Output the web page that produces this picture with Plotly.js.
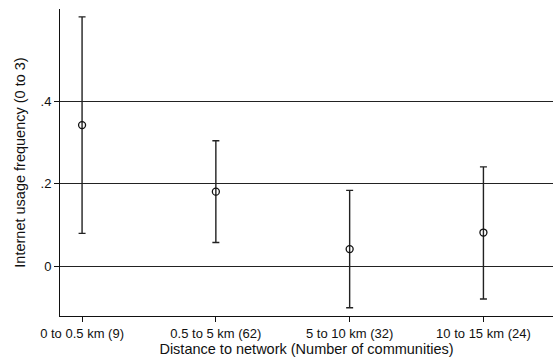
<!DOCTYPE html>
<html><head><meta charset="utf-8">
<script src="https://cdn.plot.ly/plotly-3.0.1.min.js"></script>
<style>html,body{margin:0;padding:0;background:#fff}#chart{width:553px;height:360px}</style>
</head><body><div id="chart"></div>
<script>
const categories = ["0 to 0.5 km (9)", "0.5 to 5 km (62)", "5 to 10 km (32)", "10 to 15 km (24)"];
const means = [0.342, 0.181, 0.042, 0.082];
const upper = [0.604, 0.304, 0.184, 0.241];
const lower = [0.080, 0.058, -0.100, -0.079];
const yTickVals = [0, 0.2, 0.4];
const yTickText = ["0", ".2", ".4"];

const xpos = categories.map((c, i) => i + 1);
const trace = {
  x: xpos, y: means, type: 'scatter', mode: 'markers',
  marker: {symbol: 'circle-open', size: 7, color: '#111', line: {width: 1.3, color: '#111'}},
  error_y: {type: 'data', symmetric: false,
    array: upper.map((u, i) => u - means[i]),
    arrayminus: means.map((m, i) => m - lower[i]),
    color: '#222', thickness: 1.4, width: 3.5},
  showlegend: false, hoverinfo: 'skip'
};
const layout = {
  width: 553, height: 360,
  margin: {l: 60, r: 0, t: 9, b: 44},
  paper_bgcolor: '#fff', plot_bgcolor: '#fff',
  font: {family: 'Liberation Sans, Arial, sans-serif', size: 13, color: '#111'},
  xaxis: {range: [0.835, 4.52], tickvals: xpos, ticktext: categories,
    showgrid: false, zeroline: false, showline: true, linecolor: '#111', linewidth: 1,
    ticks: 'outside', ticklen: 5, tickcolor: '#111',
    tickfont: {size: 13},
    title: {text: 'Distance to network (Number of communities)', font: {size: 14.5}, standoff: 3}},
  yaxis: {range: [-0.12, 0.623], tickvals: yTickVals, ticktext: yTickText,
    showgrid: true, gridcolor: '#222', gridwidth: 1, zeroline: false,
    showline: true, linecolor: '#111', linewidth: 1,
    ticks: 'outside', ticklen: 5, tickcolor: '#111', tickfont: {size: 13},
    title: {text: 'Internet usage frequency (0 to 3)', font: {size: 14.5}, standoff: 11}}
};
Plotly.newPlot('chart', [trace], layout, {displayModeBar: false, staticPlot: true});
</script></body></html>
